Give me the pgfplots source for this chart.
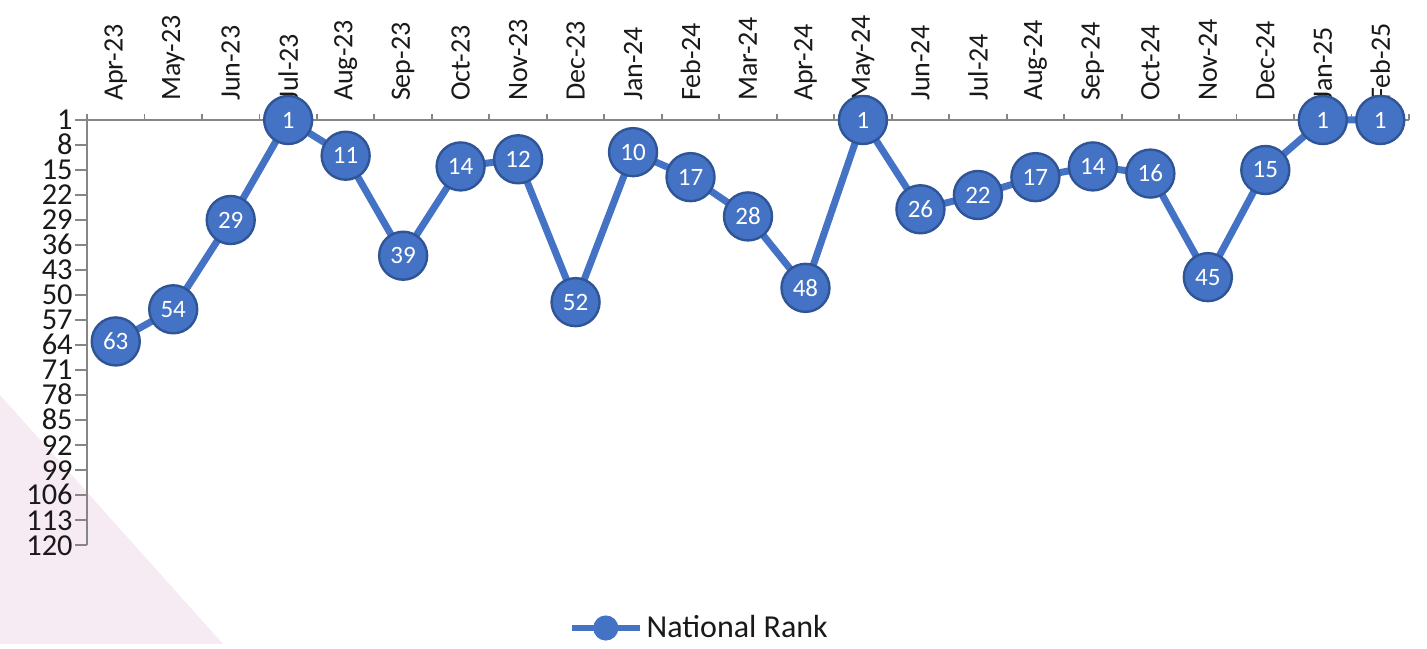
\documentclass[border=0pt]{standalone}
\usepackage{pgfplots}
\pgfplotsset{compat=1.18}
\usepackage{fontspec}
\setmainfont{Carlito}
\definecolor{serblue}{HTML}{4472C4}
\definecolor{seredge}{HTML}{2F5597}
\definecolor{axgray}{HTML}{868686}
\definecolor{pinkbg}{HTML}{F6EAF3}
\pgfplotsset{
  common/.style={
    scale only axis,
    width=661pt, height=212.5pt,
    at={(43.5pt,49.5pt)}, anchor=south west,
    clip=false,
    /pgf/number format/assume math mode=true,
    y dir=reverse,
    ymin=1, ymax=120,
    xmin=-0.5, xmax=22.5,
  }
}
\begin{document}
\begin{tikzpicture}
\fill[pinkbg] (0pt,0pt) -- (0pt,124.5pt) -- (111.5pt,0pt) -- cycle;
% axis lines, ticks and tick labels (drawn first, behind the series)
\begin{axis}[
  common,
  ytick={1,8,...,120},
  axis x line=top, axis y line=left,
  axis line style={axgray, line width=0.9pt, -},
  xtick={0,...,22},
  xticklabels={Apr-23,May-23,Jun-23,Jul-23,Aug-23,Sep-23,Oct-23,Nov-23,Dec-23,Jan-24,Feb-24,Mar-24,Apr-24,May-24,Jun-24,Jul-24,Aug-24,Sep-24,Oct-24,Nov-24,Dec-24,Jan-25,Feb-25},
  major x tick style={draw=none},
  minor xtick={-0.5,0.5,...,22.5},
  minor tick length=3pt,
  minor tick style={axgray, line width=0.9pt},
  major tick length=6pt,
  tick align=outside,
  ytick style={axgray, line width=0.9pt},
  xticklabel style={rotate=90, anchor=west, font=\fontsize{14pt}{16pt}\selectfont, text=black!90},
  yticklabel style={font=\fontsize{15.2pt}{16pt}\selectfont, text=black!90, inner xsep=1pt, inner ysep=0.5pt, text height=10pt, text depth=0pt},
]
\end{axis}
% series and legend
\begin{axis}[
  common,
  hide axis,
  legend style={at={(0.464,0)}, anchor=center, yshift=-41.5pt, draw=none, fill=none,
    font=\fontsize{16pt}{18pt}\selectfont, text=black!90},
  legend cell align=left,
  legend image code/.code={
    \draw[serblue, line width=2.8pt] (0pt,0pt) -- (34pt,0pt);
    \fill[serblue] (17pt,0pt) circle (4.5pt);
  },
]
\addplot[serblue, line width=3.5pt,
  mark=*, mark size=12pt,
  mark options={fill=serblue, draw=seredge, line width=1.2pt},
  nodes near coords,
  every node near coord/.append style={anchor=center, text=white, font=\fontsize{12.5pt}{14pt}\selectfont},
] coordinates {
(0,63) (1,54) (2,29) (3,1) (4,11) (5,39) (6,14) (7,12) (8,52) (9,10) (10,17) (11,28)
(12,48) (13,1) (14,26) (15,22) (16,17) (17,14) (18,16) (19,45) (20,15) (21,1) (22,1)
};
\addlegendentry{National Rank}
\end{axis}
\useasboundingbox (0,0) rectangle (713.5pt,322pt);
\end{tikzpicture}
\end{document}
